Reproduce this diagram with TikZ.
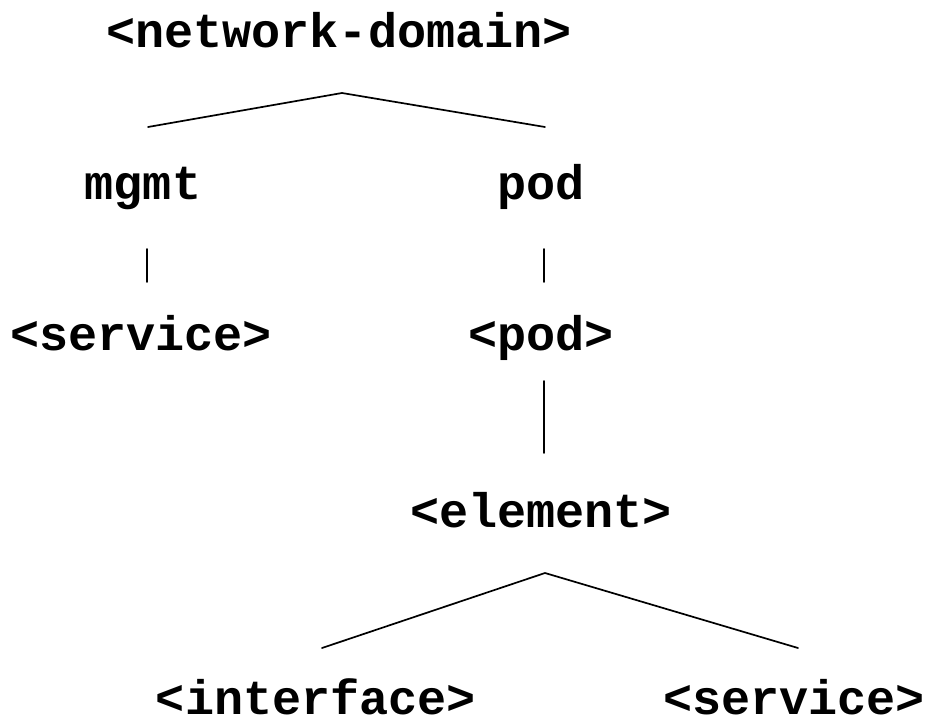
\documentclass[tikz,border=0pt]{standalone}
\usepackage{fontspec}
\setmonofont{Liberation Mono}
\begin{document}
\begin{tikzpicture}[x=1pt,y=-1pt,
  lbl/.style={anchor=base,inner sep=0pt,font=\ttfamily\bfseries\fontsize{48.5}{58}\selectfont},
  edge/.style={line width=1.7pt,line cap=round,line join=miter}]
\useasboundingbox (0,0) rectangle (928,722);
\node[lbl] (nd) at (339,48) {<network-domain>};
\node[lbl] (mgmt) at (143,199) {mgmt};
\node[lbl] (pod) at (541,199) {pod};
\node[lbl] (svc1) at (141,350) {<service>};
\node[lbl] (podv) at (541,350) {<pod>};
\node[lbl] (elem) at (541,527) {<element>};
\node[lbl] (intf) at (316,714) {<interface>};
\node[lbl] (svc2) at (794,714) {<service>};
\coordinate (ndb) at (342,93);
\coordinate (mgmtt) at (148,127);
\coordinate (podt) at (545,127);
\coordinate (mgmtb) at (147,249);
\coordinate (svc1t) at (147,282);
\coordinate (podb) at (544,249);
\coordinate (podvt) at (544,282);
\coordinate (podvb) at (544,381);
\coordinate (elemt) at (544,453);
\coordinate (elemb) at (545,573);
\coordinate (intft) at (322,648);
\coordinate (svc2t) at (798,648);
\draw[edge] (mgmtt) -- (ndb) -- (podt);
\draw[edge] (mgmtb) -- (svc1t);
\draw[edge] (podb) -- (podvt);
\draw[edge] (podvb) -- (elemt);
\draw[edge] (intft) -- (elemb) -- (svc2t);
\end{tikzpicture}
\end{document}
